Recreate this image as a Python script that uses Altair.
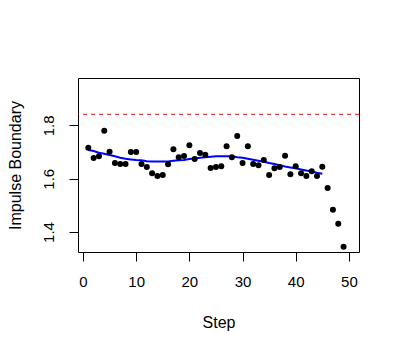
import altair as alt
import pandas as pd

steps = list(range(1, 50))
boundary = [1.716, 1.678, 1.684, 1.780, 1.701, 1.659, 1.655, 1.655, 1.700, 1.700,
            1.655, 1.644, 1.621, 1.610, 1.614, 1.654, 1.711, 1.681, 1.685, 1.726,
            1.674, 1.697, 1.690, 1.640, 1.644, 1.647, 1.722, 1.681, 1.760, 1.659,
            1.722, 1.655, 1.651, 1.670, 1.614, 1.639, 1.644, 1.686, 1.617, 1.647,
            1.621, 1.610, 1.628, 1.610, 1.645, 1.565, 1.484, 1.431, 1.345]

smooth_steps = list(range(1, 46))
smooth_vals = [1.7075, 1.704, 1.6975, 1.694, 1.689, 1.684, 1.679, 1.675, 1.6725, 1.670,
               1.669, 1.666, 1.665, 1.665, 1.665, 1.665, 1.6675, 1.669, 1.670, 1.674,
               1.676, 1.679, 1.681, 1.6825, 1.684, 1.684, 1.684, 1.684, 1.681, 1.679,
               1.675, 1.671, 1.6675, 1.664, 1.659, 1.655, 1.651, 1.646, 1.6425, 1.639,
               1.635, 1.631, 1.6275, 1.6225, 1.619]

threshold = [1.842]
x_ticks = [0, 10, 20, 30, 40, 50]
y_ticks = [1.4, 1.5, 1.6, 1.7, 1.8, 1.9]

pts = pd.DataFrame({"Step": steps, "Boundary": boundary})
sm = pd.DataFrame({"Step": smooth_steps, "Boundary": smooth_vals})
thr = pd.DataFrame({"y": threshold})

FONT = "Liberation Sans"
W, H = 281, 174

xscale = alt.Scale(domain=[-0.94, 51.9], nice=False, zero=False)
yscale = alt.Scale(domain=[1.325, 1.978], nice=False, zero=False)

xaxis = alt.Axis(values=x_ticks, title="Step", grid=False, domain=False,
                 tickSize=9, tickColor="black", tickWidth=1,
                 labelFont=FONT, labelFontSize=15, labelColor="black",
                 labelBaseline="alphabetic", labelPadding=25, labelFlush=False,
                 titleFont=FONT, titleFontSize=16, titleFontWeight="normal",
                 titleColor="black", titleX=W / 2, titleY=75,
                 titleBaseline="alphabetic", titleAlign="center")
yaxis = alt.Axis(values=y_ticks, title="Impulse Boundary", grid=False, domain=False,
                 tickSize=9, tickColor="black", tickWidth=1,
                 labelExpr="(round(datum.value*10) % 2 == 0) ? format(datum.value, '.1f') : ''",
                 labelFont=FONT, labelFontSize=15, labelColor="black",
                 labelAngle=-90, labelAlign="center", labelBaseline="alphabetic",
                 labelPadding=16, labelFlush=False,
                 titleFont=FONT, titleFontSize=16, titleFontWeight="normal",
                 titleColor="black", titleX=-57.5, titleY=H / 2, titleAngle=-90,
                 titleBaseline="alphabetic", titleAlign="center")

points = alt.Chart(pts).mark_circle(color="black", opacity=1, size=36).encode(
    x=alt.X("Step:Q", scale=xscale, axis=xaxis),
    y=alt.Y("Boundary:Q", scale=yscale, axis=yaxis),
)
line = alt.Chart(sm).mark_line(color="#0000FF", strokeWidth=2).encode(
    x=alt.X("Step:Q", scale=xscale),
    y=alt.Y("Boundary:Q", scale=yscale),
)
rule = alt.Chart(thr).mark_rule(color="#FF0000", strokeWidth=1, strokeDash=[4, 4]).encode(
    y=alt.Y("y:Q", scale=yscale),
)

chart = alt.layer(rule, line, points).properties(
    width=W, height=H,
    background="white",
    autosize=alt.AutoSizeParams(type="none"),
    padding={"left": 70, "top": 70, "right": 30, "bottom": 80},
).configure_view(stroke="black", strokeWidth=1, fill="white")

chart.save("out.html", embed_options={"renderer": "svg", "actions": False})
